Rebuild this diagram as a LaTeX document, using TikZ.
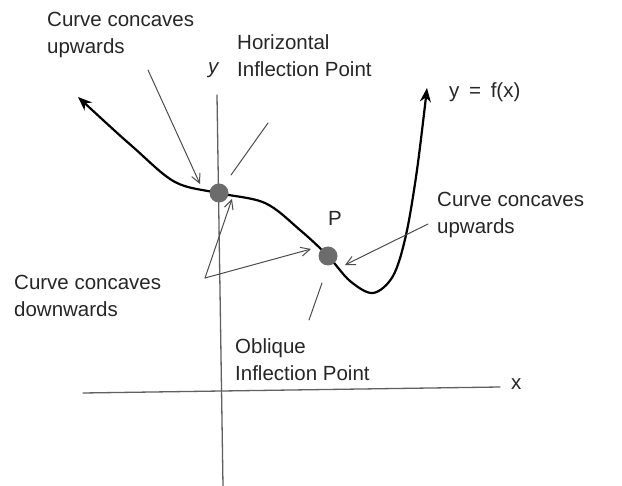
\documentclass[tikz,border=0pt]{standalone}
\usepackage{fontspec}
\setmainfont{Liberation Sans}
\usetikzlibrary{arrows.meta}

\begin{document}
\begin{tikzpicture}[x=1pt, y=-1pt, line join=round, line cap=round,
	lbl/.style={anchor=north west, align=left, inner sep=0pt, text=black!85, font=\fontsize{20.5}{27}\selectfont},
	pointer/.style={gray!60!black, line width=1pt},
	tip/.style={-{Straight Barb[length=9pt, width=9pt]}},
	axis/.style={gray!75!black, line width=1.3pt},
	dot/.style={circle, fill=gray!85!black, inner sep=0pt, minimum size=19pt}]
			
			\useasboundingbox (0,0) rectangle (622,486);
			
			\coordinate (XL) at (83,393);
			\coordinate (XR) at (500,387);
			\coordinate (YT) at (217,95);
			\coordinate (YB) at (223,486);
			
			\draw[axis] (XL) -- (XR);
			\draw[axis] (YT) -- (YB);
			\node[lbl] (xlab) at (511,378) {x};
			\node[lbl, font=\fontsize{20.5}{27}\selectfont\itshape] (ylab) at (208,62) {y};
			
			% the curve y = f(x)
			\draw[line width=2.2pt, {Stealth[length=14pt, width=11pt]}-{Stealth[length=14pt, width=11pt]}]
			 plot[smooth, tension=0.55] coordinates {(78,97) (133,147) (175,182) (218,193) (265,203) (300,230) (328,256) (350,281) (373,293) (393,276) (406,235) (417,170) (427,88)};
			
			\node[dot] (H) at (219,193) {};
			\node[dot] (P) at (328,256) {};
			
			\node[lbl] (cuL) at (47,12) {Curve concaves\\upwards};
			\node[lbl] (hip) at (237,34) {Horizontal\\Inflection Point};
			\node[lbl] (fx) at (449,82) {y\hspace{4pt} =\hspace{4pt} f(x)};
			\node[lbl] (plab) at (328,211) {P};
			\node[lbl] (cuR) at (437,192) {Curve concaves\\upwards};
			\node[lbl] (cd) at (14,275) {Curve concaves\\downwards};
			\node[lbl] (oip) at (235,338) {Oblique\\Inflection Point};
			
			\coordinate (a1) at (148,70);
			\coordinate (a2) at (200,184);
			\coordinate (h1) at (268,123);
			\coordinate (h2) at (231,175);
			\coordinate (d0) at (205,278);
			\coordinate (d1) at (232,199);
			\coordinate (d2) at (311,249);
			\coordinate (r1) at (428,224);
			\coordinate (r2) at (345,265);
			\coordinate (o1) at (309,320);
			\coordinate (o2) at (322,283);
			
			\draw[pointer, tip] (a1) -- (a2);
			\draw[pointer] (h1) -- (h2);
			\draw[pointer, tip] (d0) -- (d1);
			\draw[pointer, tip] (d0) -- (d2);
			\draw[pointer, tip] (r1) -- (r2);
			\draw[pointer] (o1) -- (o2);
	\end{tikzpicture}
\end{document}
